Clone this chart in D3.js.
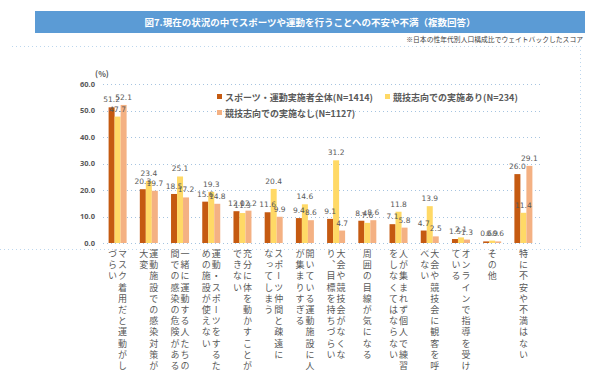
<!DOCTYPE html>
<html><head><meta charset="utf-8">
<script src="https://cdn.jsdelivr.net/npm/d3@7/dist/d3.min.js"></script>
<style>
body{margin:0;background:#fff}
svg{display:block;font-family:"Noto Sans CJK JP","Noto Sans",sans-serif}
</style>
</head><body>
<svg id="c" width="600" height="372"></svg>
<script>
// ---- data ----
const titleText = "図7.現在の状況の中でスポーツや運動を行うことへの不安や不満（複数回答）";
const noteText = "※日本の性年代別人口構成比でウェイトバックしたスコア";
const categories = [
  ["マスク着用だと運動がし","づらい"],
  ["運動施設での感染対策が","大変"],
  ["一緒に運動する人たちの","間での感染の危険がある"],
  ["運動・スポーツをするた","めの施設が使えない"],
  ["充分に体を動かすことが","できない"],
  ["スポーツ仲間と疎遠に","なってしまう"],
  ["開いている運動施設に人","が集まりすぎる"],
  ["大会や競技会がなくな","り、目標を持ちづらい"],
  ["周囲の目線が気になる"],
  ["人が集まれず個人で練習","をしなくてはならない"],
  ["大会や競技会に観客を呼","べない"],
  ["オンラインで指導を受け","ている"],
  ["その他"],
  ["特に不安や不満はない"]
];
const seriesNames = ["スポーツ・運動実施者全体(N=1414)","競技志向での実施あり(N=234)","競技志向での実施なし(N=1127)"];
const allValues = [51.2,20.3,18.5,15.6,12.0,11.6,9.4,9.1,8.4,7.1,4.7,1.5,0.6,26.0];
const competitiveYes = [47.7,23.4,25.1,19.3,11.3,20.4,14.6,31.2,7.6,11.8,13.9,2.1,0.9,11.4];
const competitiveNo = [52.1,19.7,17.2,14.8,12.2,9.9,8.6,4.7,8.6,5.8,2.5,1.3,0.6,29.1];
const yTicks = [0,10,20,30,40,50,60];
const colors = ["#C55A11","#FFD966","#F4B183"];

const series = [allValues, competitiveYes, competitiveNo];
const svg = d3.select("#c");

// title bar
svg.append("rect").attr("x",35).attr("y",11).attr("width",550).attr("height",22).attr("fill","#5B9BD5");
svg.append("text").attr("x",310).attr("y",26).attr("text-anchor","middle")
  .attr("fill","#fff").attr("font-size",9.5).attr("font-weight","bold").text(titleText);
svg.append("text").attr("x",583).attr("y",42).attr("text-anchor","end")
  .attr("fill","#404040").attr("font-size",6.8).text(noteText);

// chart area dotted border
const bc = "#BDD7EE";
svg.append("line").attr("x1",12).attr("x2",580).attr("y1",46.5).attr("y2",46.5).attr("stroke",bc).attr("stroke-dasharray","1,3");
svg.append("line").attr("x1",580.5).attr("x2",580.5).attr("y1",46).attr("y2",249).attr("stroke",bc).attr("stroke-dasharray","1,3");
svg.append("line").attr("x1",0).attr("x2",580).attr("y1",249.5).attr("y2",249.5).attr("stroke",bc).attr("stroke-dasharray","1,3");

// scales
const x0 = d3.scaleBand().domain(d3.range(categories.length)).range([102,539]);
const x1 = d3.scaleBand().domain([0,1,2]).range([-9,9]);
const y = d3.scaleLinear().domain([0,60]).range([243,84]);

// gridlines
svg.append("g").selectAll("line").data(yTicks).join("line")
  .attr("x1",103).attr("x2",540)
  .attr("y1",d=>Math.round(y(d))+0.5).attr("y2",d=>Math.round(y(d))+0.5)
  .attr("stroke","#A6C4E0").attr("stroke-dasharray","1,3");

// y axis labels
const yAxis = d3.axisLeft(y).tickValues(yTicks).tickFormat(d3.format(".1f")).tickSize(0).tickPadding(0);
const ga = svg.append("g").attr("transform","translate(95,0)").call(yAxis);
ga.select(".domain").remove();
ga.selectAll("text").attr("fill","#595959").attr("font-size",7.5).attr("font-weight","bold")
  .attr("font-family","'Noto Sans','DejaVu Sans',sans-serif");
svg.append("text").attr("x",102).attr("y",77).attr("text-anchor","middle")
  .attr("fill","#595959").attr("font-size",8).attr("font-weight","bold").text("(%)");

// bars
const groups = svg.append("g").selectAll("g").data(categories).join("g")
  .attr("transform",(d,i)=>`translate(${x0(i)+x0.bandwidth()/2},0)`);
groups.each(function(d,i){
  const g = d3.select(this);
  series.forEach((s,k)=>{
    g.append("rect").attr("x",x1(k)).attr("width",x1.bandwidth())
      .attr("y",y(s[i])).attr("height",y(0)-y(s[i])).attr("fill",colors[k]);
  });
  series.forEach((s,k)=>{
    g.append("text").attr("x",x1(k)+x1.bandwidth()/2).attr("y",y(s[i])-5)
      .attr("text-anchor","middle").attr("fill","#595959")
      .attr("font-family","'DejaVu Sans','Noto Sans',sans-serif").attr("font-size",7.5)
      .text(d3.format(".1f")(s[i]));
  });
  // vertical category labels
  const n = d.length;
  d.forEach((line,j)=>{
    const cx = n===1 ? 0 : (j===0 ? 5 : -5);
    g.append("text").attr("x",cx).attr("y",249)
      .attr("style","writing-mode:vertical-rl;text-orientation:upright")
      .attr("fill","#595959").attr("font-size",9).attr("letter-spacing",2.2)
      .text(line);
  });
});

// legend
const legendItems = [
  {x:217,y:98,k:0},{x:385,y:98,k:1},{x:217,y:114,k:2}
];
legendItems.forEach(it=>{
  svg.append("rect").attr("x",it.x).attr("y",it.y-4).attr("width",5).attr("height",5).attr("fill",colors[it.k]);
  svg.append("text").attr("x",it.x+8).attr("y",it.y+3).attr("fill","#595959")
    .attr("font-size",9).attr("font-weight","bold").text(seriesNames[it.k]);
});
</script>
</body></html>
